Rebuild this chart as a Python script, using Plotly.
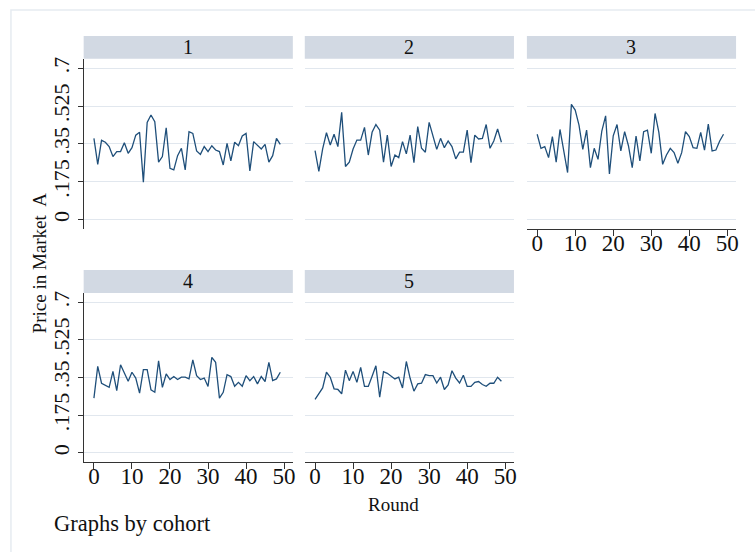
import plotly.graph_objects as go

# Price in Market A by round, one series per cohort
rounds = list(range(50))

cohort1 = [0.376, 0.256, 0.367, 0.358, 0.338, 0.292, 0.315, 0.315, 0.356, 0.307,
           0.333, 0.391, 0.404, 0.173, 0.450, 0.484, 0.453, 0.266, 0.292, 0.425,
           0.238, 0.230, 0.296, 0.330, 0.230, 0.407, 0.399, 0.318, 0.302, 0.338,
           0.315, 0.342, 0.322, 0.315, 0.253, 0.353, 0.272, 0.358, 0.342, 0.387,
           0.399, 0.226, 0.361, 0.342, 0.327, 0.348, 0.266, 0.296, 0.376, 0.348]

cohort2 = [0.319, 0.223, 0.327, 0.402, 0.345, 0.395, 0.338, 0.496, 0.246, 0.266,
           0.327, 0.368, 0.368, 0.427, 0.299, 0.404, 0.440, 0.414, 0.266, 0.391,
           0.246, 0.299, 0.287, 0.361, 0.304, 0.391, 0.264, 0.430, 0.330, 0.312,
           0.450, 0.387, 0.325, 0.376, 0.333, 0.364, 0.338, 0.281, 0.312, 0.312,
           0.414, 0.264, 0.391, 0.373, 0.376, 0.440, 0.330, 0.364, 0.419, 0.358]

cohort3 = [0.395, 0.330, 0.338, 0.287, 0.384, 0.266, 0.417, 0.322, 0.218, 0.533,
           0.507, 0.437, 0.325, 0.414, 0.241, 0.330, 0.279, 0.410, 0.480, 0.212,
           0.388, 0.440, 0.318, 0.407, 0.342, 0.241, 0.387, 0.272, 0.407, 0.414,
           0.307, 0.491, 0.404, 0.256, 0.299, 0.330, 0.310, 0.261, 0.310, 0.407,
           0.384, 0.333, 0.330, 0.404, 0.322, 0.442, 0.318, 0.322, 0.364, 0.395]

cohort4 = [0.255, 0.402, 0.324, 0.316, 0.305, 0.379, 0.290, 0.410, 0.370, 0.333,
           0.375, 0.348, 0.278, 0.387, 0.387, 0.293, 0.282, 0.428, 0.305, 0.367,
           0.341, 0.355, 0.341, 0.352, 0.352, 0.344, 0.433, 0.359, 0.341, 0.348,
           0.309, 0.444, 0.421, 0.255, 0.282, 0.364, 0.355, 0.310, 0.328, 0.310,
           0.359, 0.336, 0.355, 0.321, 0.355, 0.332, 0.421, 0.336, 0.344, 0.375]

cohort5 = [0.249, 0.275, 0.302, 0.375, 0.352, 0.298, 0.295, 0.275, 0.385, 0.336,
           0.379, 0.328, 0.398, 0.309, 0.309, 0.356, 0.405, 0.259, 0.378, 0.370,
           0.355, 0.344, 0.352, 0.302, 0.425, 0.347, 0.287, 0.321, 0.324, 0.364,
           0.359, 0.359, 0.325, 0.352, 0.295, 0.316, 0.382, 0.348, 0.325, 0.361,
           0.309, 0.309, 0.328, 0.332, 0.318, 0.310, 0.324, 0.324, 0.352, 0.333]

cohort_labels = ["1", "2", "3", "4", "5"]
series = [cohort1, cohort2, cohort3, cohort4, cohort5]

y_tickvals = [0, 0.175, 0.35, 0.525, 0.7]
y_ticktext = ["0", ".175", ".35", ".525", ".7"]
x_tickvals = [0, 10, 20, 30, 40, 50]

W, H = 755, 552
LINE = "#1f4f7a"
GRID = "#e1e7ee"
STRIP = "#d2d9e3"
AXIS = "#333333"
FONT = "Liberation Serif"


def px(x):
    return x / W


def py(y):
    return 1 - y / H


# pixel layout of the panel grid
cols = [(84, 294), (306, 516), (529, 739)]
rows = [(57, 228), (292, 462)]
strips = [(34, 57), (269, 292)]
# (row, col, show y axis, show x axis)
cells = [(0, 0, True, False), (0, 1, False, False), (0, 2, False, True),
         (1, 0, True, True), (1, 1, False, True)]

fig = go.Figure()
shapes = []
annotations = []

for k, (r, c, show_y, show_x) in enumerate(cells):
    n = k + 1
    xa = "x" if n == 1 else f"x{n}"
    ya = "y" if n == 1 else f"y{n}"
    fig.add_trace(go.Scatter(
        x=rounds, y=series[k], mode="lines", xaxis=xa, yaxis=ya,
        line=dict(color=LINE, width=1.3), showlegend=False,
        hoverinfo="x+y"))

    x0, x1 = cols[c]
    y0, y1 = rows[r]
    xkey = "xaxis" if n == 1 else f"xaxis{n}"
    ykey = "yaxis" if n == 1 else f"yaxis{n}"
    fig.update_layout(**{
        xkey: dict(
            domain=[px(x0), px(x1)], anchor=ya, range=[-2.7, 52.3],
            showgrid=False, zeroline=False, showline=show_x,
            linecolor=AXIS, linewidth=1,
            tickvals=x_tickvals if show_x else [],
            ticks="outside" if show_x else "", ticklen=6, tickcolor=AXIS,
            ticklabelstandoff=-13,
            showticklabels=show_x,
            tickfont=dict(family=FONT, size=23, color="#111"),
        ),
        ykey: dict(
            domain=[py(y1), py(y0)], anchor=xa, range=[-0.0437, 0.7437],
            showgrid=True, gridcolor=GRID, gridwidth=1.3,
            zeroline=False, showline=show_y, linecolor=AXIS, linewidth=1,
            tickvals=y_tickvals, ticktext=y_ticktext,
            ticks="outside" if show_y else "", ticklen=5, tickcolor=AXIS,
            showticklabels=show_y, tickangle=-90,
            tickfont=dict(family=FONT, size=22, color="#111"),
        ),
    })

    # cohort strip header
    s0, s1 = strips[r]
    shapes.append(dict(type="rect", xref="paper", yref="paper",
                       x0=px(x0), x1=px(x1), y0=py(s1), y1=py(s0),
                       fillcolor=STRIP, line=dict(width=0), layer="below"))
    annotations.append(dict(xref="paper", yref="paper",
                            x=px((x0 + x1) / 2), y=py((s0 + s1) / 2),
                            text=cohort_labels[k], showarrow=False,
                            xanchor="center", yanchor="middle",
                            font=dict(family=FONT, size=20, color="#111")))

# outer graph region border
shapes.append(dict(type="rect", xref="paper", yref="paper",
                   x0=px(11), x1=px(780), y0=py(580), y1=py(8),
                   line=dict(color="#e6ebf1", width=1.5), layer="below"))

annotations += [
    dict(xref="paper", yref="paper", x=px(40), y=py(261.5),
         text="Price in Market\u00a0 A", textangle=-90, showarrow=False,
         xanchor="center", yanchor="middle",
         font=dict(family=FONT, size=19, color="#111")),
    dict(xref="paper", yref="paper", x=px(395), y=py(504),
         text="Round", showarrow=False, xanchor="center", yanchor="middle",
         font=dict(family=FONT, size=19, color="#111")),
    dict(xref="paper", yref="paper", x=px(52), y=py(523),
         text="Graphs by cohort", showarrow=False, xanchor="left",
         yanchor="middle",
         font=dict(family=FONT, size=22.5, color="#111")),
]

fig.update_layout(
    width=W, height=H, margin=dict(l=0, r=0, t=0, b=0),
    paper_bgcolor="white", plot_bgcolor="white",
    shapes=shapes, annotations=annotations,
)

fig.write_html("out.html")
